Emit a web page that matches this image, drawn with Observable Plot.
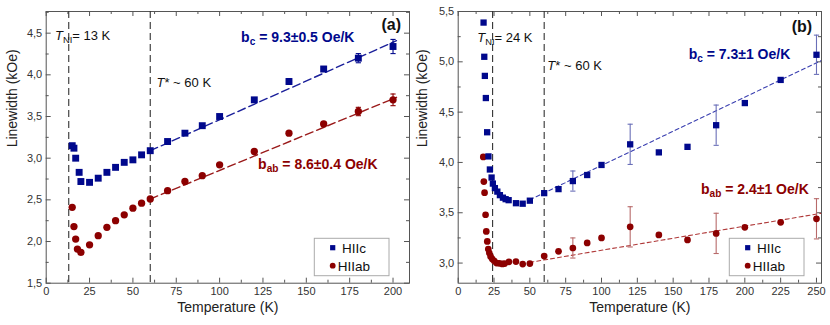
<!DOCTYPE html>
<html><head><meta charset="utf-8">
<script src="https://cdn.jsdelivr.net/npm/d3@7"></script>
<script src="https://cdn.jsdelivr.net/npm/@observablehq/plot@0.6"></script>
<style>
body{margin:0;background:#fff;}
#wrap{position:relative;width:830px;height:325px;}
#wrap svg{position:absolute;top:0;overflow:visible;}
</style></head><body><div id="wrap"></div>
<script>
// ---------- Panel (a) data ----------
const tA_c  = [15,16,17,19,20,25,30,35,40,45,50,55,60,70,80,90,100,120,140,160,180,200];
const vA_c  = [3.15,3.12,3.00,2.83,2.72,2.71,2.76,2.83,2.89,2.95,2.98,3.04,3.09,3.20,3.30,3.39,3.50,3.70,3.92,4.07,4.20,4.34];
const eA_c  = [0,0,0,0,0,0,0,0,0,0,0,0,0,0,0,0,0,0,0.035,0.03,0.055,0.085];
const tA_ab = [15,16,17,18,20,25,30,35,40,45,50,55,60,70,80,90,100,120,140,160,180,200];
const vA_ab = [2.41,2.18,2.03,1.91,1.87,1.96,2.07,2.17,2.25,2.32,2.40,2.46,2.51,2.61,2.72,2.79,2.92,3.08,3.30,3.41,3.56,3.70];
const eA_ab = [0,0,0,0,0,0,0,0,0,0,0,0,0,0,0,0,0,0,0,0.03,0.05,0.07];
const fitA_cT = [60,202],  fitA_cV = [3.09,4.41];
const fitA_abT = [60,202], fitA_abV = [2.51,3.73];
const vlinesA = [13,60];
const xTicksA = [0,25,50,75,100,125,150,175,200];
const xMinorA = [12.5,37.5,62.5,87.5,112.5,137.5,162.5,187.5];
const yTicksA = [1.5,2.0,2.5,3.0,3.5,4.0,4.5];
const yMinorA = [1.75,2.25,2.75,3.25,3.75,4.25,4.75];
const labA_x = [5.1,63.6,112.4,122.2,204.6];
const labA_y = [4.47,3.91,4.45,2.93,4.60];
const labA_t = ["<i>T</i>_{NI}= 13 K","<i>T</i>* ~ 60 K","b_{c} = 9.3±0.5 Oe/K","b_{ab} = 8.6±0.4 Oe/K","(a)"];

// ---------- Panel (b) data ----------
const tB_c  = [17.7,18.2,18.6,19.3,20.2,21.1,22.1,23.3,24.2,25.6,27.3,29.1,31.2,33.1,35.2,40.3,45,50,60,70,80,90,100,120,140,160,180,200,225,250];
const vB_c  = [5.39,5.05,4.86,4.64,4.30,4.06,3.93,3.85,3.79,3.745,3.71,3.675,3.65,3.635,3.625,3.595,3.59,3.62,3.695,3.735,3.815,3.875,3.975,4.18,4.10,4.155,4.37,4.59,4.82,5.07];
const eB_c  = [0,0,0,0,0,0,0,0,0,0,0,0,0,0,0,0,0,0,0,0,0.1,0,0,0.2,0,0,0.2,0,0,0.195];
const tB_ab = [17.5,17.9,18.4,19.1,19.6,20.3,21,21.7,22.6,23.8,25.2,26.8,28.7,30.8,32.4,35.4,40.3,45,50,60,70,80,90,100,120,140,160,180,200,225,250];
const vB_ab = [4.055,3.81,3.70,3.48,3.315,3.215,3.14,3.10,3.065,3.04,3.02,3.00,2.998,2.992,2.995,3.012,3.015,2.99,2.995,3.07,3.117,3.15,3.20,3.25,3.36,3.28,3.23,3.295,3.355,3.405,3.44];
const eB_ab = [0,0,0,0,0,0,0,0,0,0,0,0,0,0,0,0,0,0,0,0,0,0.1,0,0,0.2,0,0,0.2,0,0,0.2];
const fitB_cT = [50,253],  fitB_cV = [3.63,5.01];
const fitB_abT = [50,253], fitB_abV = [3.007,3.494];
const vlinesB = [24,60];
const xTicksB = [0,25,50,75,100,125,150,175,200,225,250];
const xMinorB = [12.5,37.5,62.5,87.5,112.5,137.5,162.5,187.5,212.5,237.5];
const yTicksB = [3.0,3.5,4.0,4.5,5.0,5.5];
const yMinorB = [3.25,3.75,4.25,4.75,5.25];
const labB_x = [13.3,62.2,160.8,169.4,247];
const labB_y = [5.236,4.965,5.071,3.735,5.35];
const labB_t = ["<i>T</i>_{NI}= 24 K","<i>T</i>* ~ 60 K","b_{c} = 7.3±1 Oe/K","b_{ab} = 2.4±1 Oe/K","(b)"];

const legendNames = ["HIIc","HIIab"];

// ---------- drawing ----------
const FONT = '"Liberation Sans", Arial, Helvetica, sans-serif';
const BLUE = "#00088c", RED = "#8c0000";
const zipPts = (T,V,E) => T.map((t,i)=>({T:t, v:V[i], e:E ? E[i] : 0}));
const capSym = {draw(ctx){ ctx.moveTo(-2.6,0); ctx.lineTo(2.6,0); }};

function panel(c){
  const W = 415, H = 325;
  const fH = H - c.mt - c.mb, fW = W - c.ml - c.mr;
  const fmtY = d => d.toFixed(1).replace(".", ",");
  const ptsC = zipPts(c.tC, c.vC, c.eC), ptsAB = zipPts(c.tAB, c.vAB, c.eAB);
  const errC = ptsC.filter(d=>d.e>0), errAB = ptsAB.filter(d=>d.e>0);
  const fitC = zipPts(c.fitCT, c.fitCV), fitAB = zipPts(c.fitABT, c.fitABV);
  const labs = c.labX.map((x,i)=>({x, y:c.labY[i], t:c.labT[i], i}));
  const tick = "#555";
  const marks = [
    Plot.frame({stroke:tick, strokeWidth:1}),
    Plot.tickX(c.xTicks, {x:d=>d, insetTop:fH-5, stroke:tick}),
    Plot.tickX(c.xTicks, {x:d=>d, insetBottom:fH-5, stroke:tick}),
    Plot.tickX(c.xMinor, {x:d=>d, insetTop:fH-3, stroke:tick}),
    Plot.tickX(c.xMinor, {x:d=>d, insetBottom:fH-3, stroke:tick}),
    Plot.tickY(c.yTicks, {y:d=>d, insetRight:fW-5, stroke:tick}),
    Plot.tickY(c.yTicks, {y:d=>d, insetLeft:fW-5, stroke:tick}),
    Plot.tickY(c.yMinor, {y:d=>d, insetRight:fW-3, stroke:tick}),
    Plot.tickY(c.yMinor, {y:d=>d, insetLeft:fW-3, stroke:tick}),
    Plot.axisX({ticks:c.xTicks, tickSize:0, tickPadding:4, fontSize:11, color:"#333", label:null}),
    Plot.axisY({ticks:c.yTicks, tickSize:0, tickPadding:4, tickFormat:fmtY, fontSize:11, color:"#333", label:null}),
    Plot.ruleX(c.vlines, {x:d=>d, stroke:"#333", strokeWidth:1.1, strokeDasharray:"7,4"}),
    Plot.line(fitC, {x:"T", y:"v", stroke:c.fitBlue, strokeWidth:c.fitW, strokeDasharray:c.dash}),
    Plot.line(fitAB, {x:"T", y:"v", stroke:c.fitRed, strokeWidth:c.fitW, strokeDasharray:c.dash}),
    Plot.ruleX(errC, {x:"T", y1:d=>d.v-d.e, y2:d=>d.v+d.e, stroke:c.errBlue, strokeWidth:1.1}),
    Plot.dot(errC, {x:"T", y:d=>d.v-d.e, symbol:capSym, r:1, fill:"none", stroke:c.errBlue, strokeWidth:1.1}),
    Plot.dot(errC, {x:"T", y:d=>d.v+d.e, symbol:capSym, r:1, fill:"none", stroke:c.errBlue, strokeWidth:1.1}),
    Plot.ruleX(errAB, {x:"T", y1:d=>d.v-d.e, y2:d=>d.v+d.e, stroke:c.errRed, strokeWidth:1.1}),
    Plot.dot(errAB, {x:"T", y:d=>d.v-d.e, symbol:capSym, r:1, fill:"none", stroke:c.errRed, strokeWidth:1.1}),
    Plot.dot(errAB, {x:"T", y:d=>d.v+d.e, symbol:capSym, r:1, fill:"none", stroke:c.errRed, strokeWidth:1.1}),
    Plot.dot(ptsAB, {x:"T", y:"v", r:c.rCirc, fill:RED, stroke:"none"}),
    Plot.dot(ptsC, {x:"T", y:"v", r:c.rSq, symbol:"square", fill:BLUE, stroke:"none"}),
    Plot.text(labs.filter(d=>d.i<2), {x:"x", y:"y", text:"t", textAnchor:"start", fontSize:13, fill:"#111"}),
    Plot.text(labs.filter(d=>d.i===2), {x:"x", y:"y", text:"t", textAnchor:"start", fontSize:14, fontWeight:"bold", fill:BLUE}),
    Plot.text(labs.filter(d=>d.i===3), {x:"x", y:"y", text:"t", textAnchor:"start", fontSize:14, fontWeight:"bold", fill:RED}),
    Plot.text(labs.filter(d=>d.i===4), {x:"x", y:"y", text:"t", textAnchor:"end", fontSize:16, fontWeight:"bold", fill:"#111"}),
    Plot.text(["Linewidth (kOe)"], {text:d=>d, frameAnchor:"left", rotate:-90, dx:c.yLabDx, fontSize:14, fill:"#222"}),
    Plot.text(["Temperature (K)"], {text:d=>d, frameAnchor:"bottom", dy:29, fontSize:14, fill:"#222"})
  ];
  const svg = Plot.plot({
    width:W, height:H, marginLeft:c.ml, marginRight:c.mr, marginTop:c.mt, marginBottom:c.mb,
    x:{domain:c.xDom}, y:{domain:c.yDom},
    style:{fontFamily:FONT, background:"transparent", overflow:"visible"},
    marks
  });
  // rich text: italics and subscripts
  svg.querySelectorAll("text").forEach(t=>{
    const s = t.textContent;
    if(!/_\{|<i>/.test(s)) return;
    const re = /<i>(.*?)<\/i>|_\{(.*?)\}|([^<_]+)/g; let m, html="", sh=false;
    while((m = re.exec(s))){
      if(m[1]!==undefined){ html += `<tspan font-style="italic"${sh?' dy="-3"':''}>${m[1]}</tspan>`; sh=false; }
      else if(m[2]!==undefined){ html += `<tspan font-size="72%" dy="3">${m[2]}</tspan>`; sh=true; }
      else { html += `<tspan${sh?' dy="-3"':''}>${m[3]}</tspan>`; sh=false; }
    }
    t.innerHTML = html;
  });
  // legend
  const g = d3.select(svg).append("g").attr("font-family", FONT).attr("font-size", 13.5).attr("fill","#111");
  g.append("rect").attr("x",314.3).attr("y",238.3).attr("width",74.7).attr("height",37.4)
    .attr("fill","#fff").attr("stroke","#aaa").attr("stroke-width",1);
  g.append("rect").attr("x",332.7-2.6).attr("y",247.7-2.6).attr("width",5.2).attr("height",5.2).attr("fill",BLUE);
  g.append("circle").attr("cx",332.7).attr("cy",265.7).attr("r",2.9).attr("fill",RED);
  g.append("text").attr("x",354).attr("y",247.7).attr("dy","0.36em").text(legendNames[0]);
  g.append("text").attr("x",354).attr("y",265.7).attr("dy","0.36em").text(legendNames[1]);
  svg.style.left = c.left + "px";
  return svg;
}

const wrap = document.getElementById("wrap");
wrap.appendChild(panel({
  left:0, ml:45.7, mr:6, mt:11, mb:42.3, xDom:[0,209.5], yDom:[1.5,4.76],
  tC:tA_c, vC:vA_c, eC:eA_c, tAB:tA_ab, vAB:vA_ab, eAB:eA_ab,
  fitCT:fitA_cT, fitCV:fitA_cV, fitABT:fitA_abT, fitABV:fitA_abV,
  vlines:vlinesA, xTicks:xTicksA, xMinor:xMinorA, yTicks:yTicksA, yMinor:yMinorA,
  labX:labA_x, labY:labA_y, labT:labA_t,
  fitBlue:"#1a1f9a", fitRed:"#9a1a1a", fitW:1.4, dash:"8,4",
  errBlue:BLUE, errRed:RED, rSq:3.9, rCirc:3.65, yLabDx:-34
}));
wrap.appendChild(panel({
  left:415, ml:42.7, mr:9, mt:11, mb:42.3, xDom:[0,253.5], yDom:[2.8,5.5],
  tC:tB_c, vC:vB_c, eC:eB_c, tAB:tB_ab, vAB:vB_ab, eAB:eB_ab,
  fitCT:fitB_cT, fitCV:fitB_cV, fitABT:fitB_abT, fitABV:fitB_abV,
  vlines:vlinesB, xTicks:xTicksB, xMinor:xMinorB, yTicks:yTicksB, yMinor:yMinorB,
  labX:labB_x, labY:labB_y, labT:labB_t,
  fitBlue:"#3a3fb0", fitRed:"#b03a3a", fitW:1.1, dash:"4,3",
  errBlue:"#6a6fb8", errRed:"#b86a6a", rSq:3.55, rCirc:3.35, yLabDx:-36
}));
</script></body></html>
